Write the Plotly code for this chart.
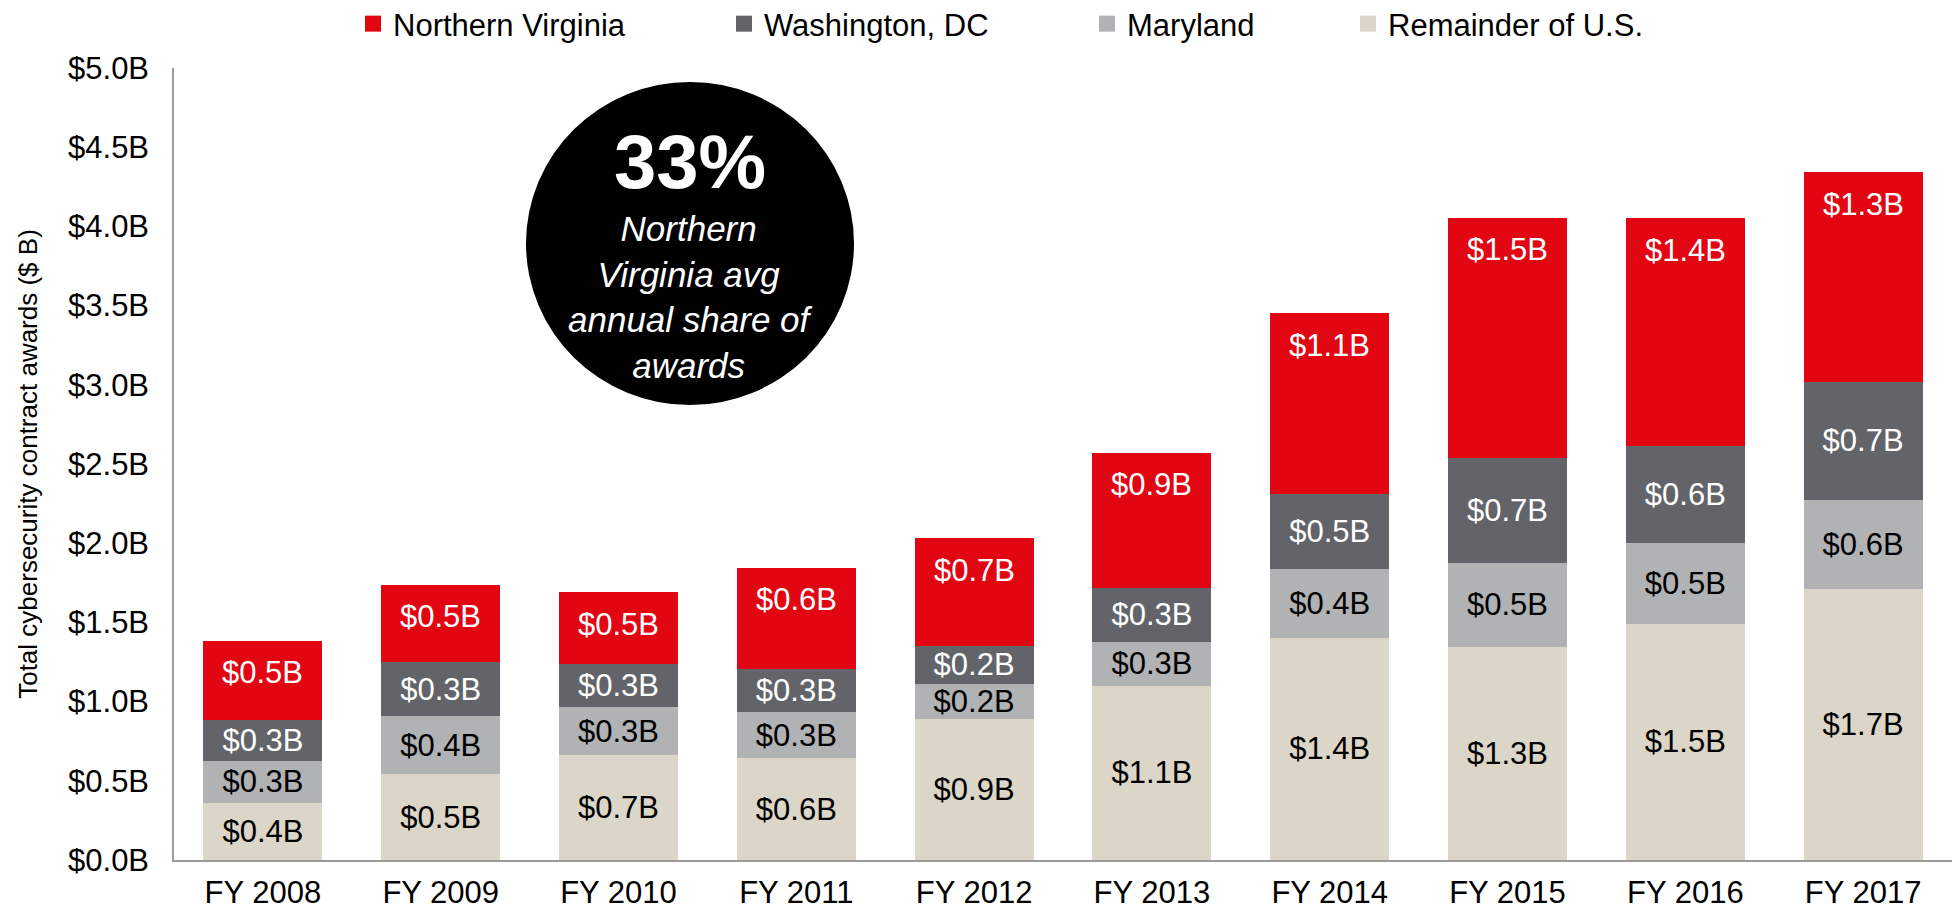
import plotly.graph_objects as go

# ---- data (values in $ billions) ----
years = ["FY 2008", "FY 2009", "FY 2010", "FY 2011", "FY 2012",
         "FY 2013", "FY 2014", "FY 2015", "FY 2016", "FY 2017"]
remainder_us = [0.36, 0.54, 0.66, 0.643, 0.892, 1.099, 1.403, 1.344, 1.492, 1.713]
maryland = [0.267, 0.368, 0.305, 0.291, 0.222, 0.279, 0.435, 0.534, 0.512, 0.561]
washington_dc = [0.254, 0.342, 0.271, 0.274, 0.238, 0.341, 0.472, 0.662, 0.612, 0.743]
northern_virginia = [0.502, 0.487, 0.454, 0.637, 0.680, 0.851, 1.143, 1.515, 1.437, 1.325]

series_names = ["Northern Virginia", "Washington, DC", "Maryland", "Remainder of U.S."]
y_tick_values = [0.0, 0.5, 1.0, 1.5, 2.0, 2.5, 3.0, 3.5, 4.0, 4.5, 5.0]
y_tick_labels = ["$%.1fB" % v for v in y_tick_values]
y_title = "Total cybersecurity contract awards ($ B)"
callout_value = "33%"
callout_lines = ["Northern", "Virginia avg", "annual share of", "awards"]

# ---- styling ----
FONT = "Liberation Sans, Arial, sans-serif"
FS = 31
RED = "#E20613"
DARK = "#626469"
MID = "#B1B2B4"
BEIGE = "#DCD6C8"
W, H = 1955, 913
L, R, T, B = 174, 3, 68, 53
pw, ph = W - L - R, H - T - B


def px_x(p):
    return (p - L) / pw


def px_y(p):
    return (H - B - p) / ph


def fmt(v):
    return "$%.1fB" % v


fig = go.Figure()

stack = [
    (series_names[3], remainder_us, BEIGE, "black", "legend4"),
    (series_names[2], maryland, MID, "black", "legend3"),
    (series_names[1], washington_dc, DARK, "white", "legend2"),
    (series_names[0], northern_virginia, RED, "white", "legend"),
]

for name, vals, col, tcol, leg in stack:
    is_top = name == series_names[0]
    fig.add_trace(go.Bar(
        x=years, y=vals, name=name, showlegend=False,
        marker=dict(color=col, line=dict(width=0)),
        text=None if is_top else [fmt(v) for v in vals],
        textposition="inside", insidetextanchor="middle",
        textangle=0, constraintext="none",
        textfont=dict(family=FONT, size=FS, color=tcol),
        hoverinfo="x+y+name",
    ))

# legend entries (square swatches like the reference)
for name, vals, col, tcol, leg in stack:
    fig.add_trace(go.Scatter(
        x=[None], y=[None], mode="markers", name=name, legend=leg,
        showlegend=True, hoverinfo="skip",
        marker=dict(symbol="square", size=16, color=col, line=dict(width=0)),
    ))

# Northern Virginia labels sit near the top of the red segment
totals = [a + b + c + d for a, b, c, d in zip(remainder_us, maryland, washington_dc, northern_virginia)]
for yr, tot, v in zip(years, totals, northern_virginia):
    fig.add_annotation(x=yr, y=tot, text=fmt(v), showarrow=False,
                       yshift=-32, yanchor="middle", xanchor="center",
                       font=dict(family=FONT, size=FS, color="white"))

# Black callout circle
fig.add_shape(type="circle", xref="paper", yref="paper",
              x0=px_x(526), x1=px_x(854), y0=px_y(405), y1=px_y(82),
              fillcolor="black", line=dict(width=0), layer="above")
fig.add_annotation(xref="paper", yref="paper", x=px_x(690), y=px_y(161),
                   text="<b>%s</b>" % callout_value, showarrow=False,
                   xanchor="center", yanchor="middle",
                   font=dict(family=FONT, size=76, color="white"))
fig.add_annotation(xref="paper", yref="paper", x=px_x(690), y=px_y(297),
                   text="<i>" + "<br>".join(callout_lines) + "</i>", showarrow=False,
                   xanchor="center", yanchor="middle", align="center",
                   font=dict(family=FONT, size=35, color="white"))

leg_common = dict(orientation="h", xref="paper", yref="paper",
                  yanchor="middle", xanchor="left", bgcolor="rgba(0,0,0,0)",
                  borderwidth=0, itemsizing="trace",
                  font=dict(family=FONT, size=FS, color="black"))
leg_px = [353, 724, 1087, 1348]
ly = px_y(24)

fig.update_layout(
    width=W, height=H,
    margin=dict(l=L, r=R, t=T, b=B, pad=0, autoexpand=False),
    barmode="stack", bargap=0.33,
    plot_bgcolor="white", paper_bgcolor="white",
    font=dict(family=FONT, size=FS, color="black"),
    showlegend=True,
    legend=dict(x=px_x(leg_px[0]), y=ly, **leg_common),
    legend2=dict(x=px_x(leg_px[1]), y=ly, **leg_common),
    legend3=dict(x=px_x(leg_px[2]), y=ly, **leg_common),
    legend4=dict(x=px_x(leg_px[3]), y=ly, **leg_common),
    uniformtext=dict(minsize=FS, mode="show"),
    xaxis=dict(showline=True, linecolor="#9A9A9A", linewidth=2,
               showgrid=False, ticks="", ticklabelstandoff=4, automargin=False,
               tickfont=dict(family=FONT, size=FS, color="black"), fixedrange=True),
    yaxis=dict(range=[0, 5], tickvals=y_tick_values, ticktext=y_tick_labels,
               showline=True, linecolor="#9A9A9A", linewidth=1.5, automargin=False,
               showgrid=False, zeroline=False, ticks="", ticklabelstandoff=17,
               tickfont=dict(family=FONT, size=FS, color="black"),
               title=dict(text=y_title, standoff=23,
                          font=dict(family=FONT, size=26, color="black"))),
)

fig.write_html("out.html", config={"displayModeBar": False},
               post_script="document.body.style.margin='0';")
